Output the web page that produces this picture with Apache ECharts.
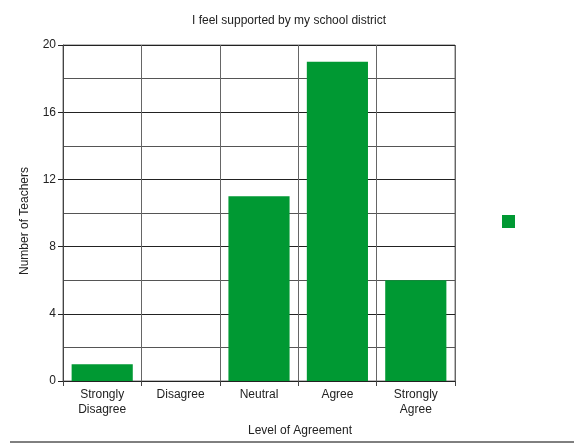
<!DOCTYPE html>
<html>
<head>
<meta charset="utf-8">
<script src="https://cdn.jsdelivr.net/npm/echarts@6/dist/echarts.min.js"></script>
<style>html,body{margin:0;padding:0;background:#fff}#c{width:574px;height:444px}</style>
</head>
<body>
<div id="c"></div>
<script>
const categories = ['Strongly\nDisagree', 'Disagree', 'Neutral', 'Agree', 'Strongly\nAgree'];
const teachers = [1, 0, 11, 19, 6];
const yTicks = [0, 4, 8, 12, 16, 20];

const chart = echarts.init(document.getElementById('c'));
const font = 'Arial, "Liberation Sans", sans-serif';
chart.setOption({
  animation: false,
  textStyle: { fontFamily: font },
  title: {
    text: 'I feel supported by my school district',
    left: 187, top: 10,
    textStyle: { fontSize: 12, fontWeight: 'normal', color: '#222', fontFamily: font }
  },
  legend: {
    data: [' '],
    left: 497, top: 210,
    icon: 'rect', itemWidth: 13, itemHeight: 13,
    textStyle: { fontSize: 12 }
  },
  grid: { left: 63, right: 119, top: 45, bottom: 63, show: true, borderColor: '#777', borderWidth: 1 },
  xAxis: {
    type: 'category',
    data: categories,
    name: 'Level of Agreement',
    nameLocation: 'middle',
    nameGap: 44,
    nameTextStyle: { fontSize: 12, color: '#222', padding: [0, 0, 0, 82] },
    axisLine: { lineStyle: { color: '#222' } },
    axisTick: { show: true, length: 5, lineStyle: { color: '#444' } },
    axisLabel: { fontSize: 12, color: '#222', margin: 6, lineHeight: 15, interval: 0 },
    splitLine: { show: true, lineStyle: { color: '#666' } }
  },
  yAxis: {
    type: 'value',
    min: 0, max: 20, interval: 4,
    name: 'Number of Teachers',
    nameLocation: 'middle',
    nameGap: 32,
    nameTextStyle: { fontSize: 12, color: '#222', padding: [0, 16, 0, 0] },
    axisLine: { show: true, lineStyle: { color: '#444' } },
    axisTick: { show: true, length: 5, lineStyle: { color: '#222' } },
    axisLabel: { fontSize: 12, color: '#222', margin: 7,
      formatter: v => yTicks.indexOf(v) >= 0 ? String(v) : '' },
    splitLine: { show: true, lineStyle: { color: '#222' } },
    minorTick: { show: false, splitNumber: 2 },
    minorSplitLine: { show: true, lineStyle: { color: '#555' } }
  },
  series: [{
    name: ' ',
    type: 'bar',
    data: teachers,
    barCategoryGap: '22%',
    itemStyle: { color: '#009933' }
  }],
  graphic: [{
    type: 'line',
    shape: { x1: 10, y1: 442, x2: 574, y2: 442 },
    style: { stroke: '#000', lineWidth: 1 }
  }]
});
</script>
</body>
</html>
